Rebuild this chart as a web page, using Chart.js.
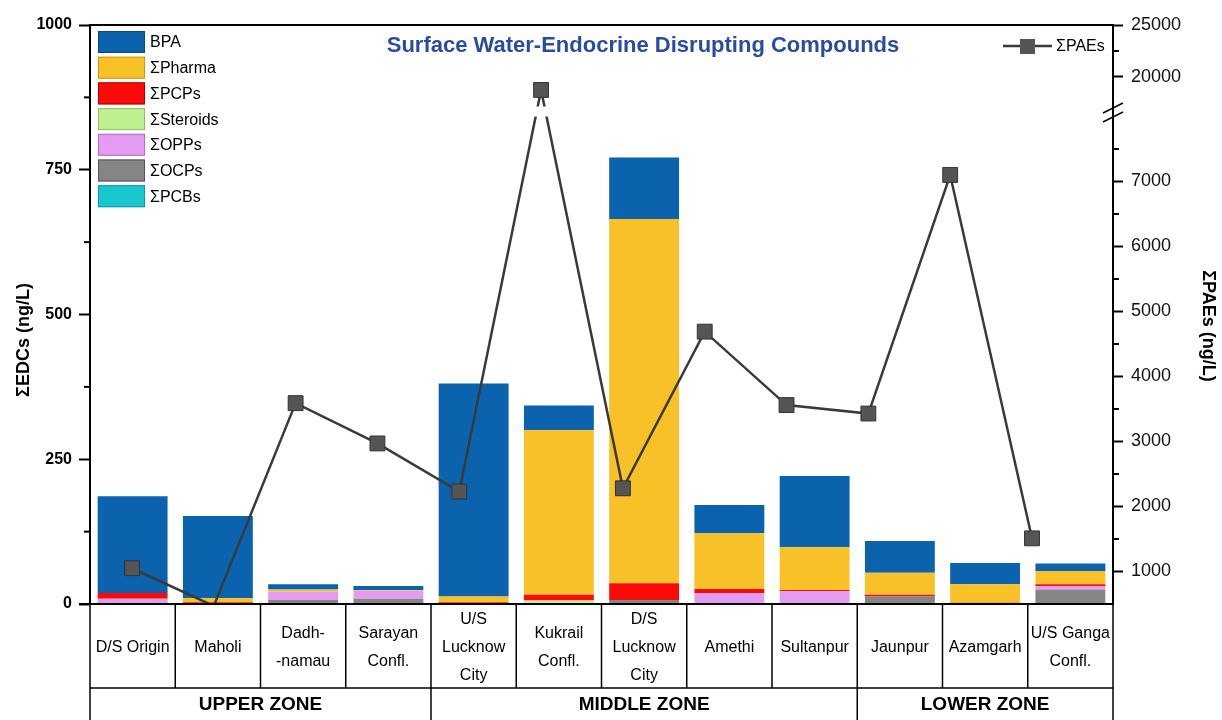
<!DOCTYPE html>
<html>
<head>
<meta charset="utf-8">
<script src="https://cdn.jsdelivr.net/npm/chart.js@4.4.1/dist/chart.umd.min.js"></script>
<style>
  body { margin: 0; background: #fff; }
  #wrap { width: 1222px; height: 720px; position: relative; }
</style>
</head>
<body>
<div id="wrap"><canvas id="chart"></canvas></div>
<script>
// sampling sites (x categories) and the zones they belong to
const sites = ['D/S Origin', 'Maholi', ['Dadh-', '-namau'], ['Sarayan', 'Confl.'],
  ['U/S', 'Lucknow', 'City'], ['Kukrail', 'Confl.'], ['D/S', 'Lucknow', 'City'],
  'Amethi', 'Sultanpur', 'Jaunpur', 'Azamgarh', ['U/S Ganga', 'Confl.']];
const zoneNames = ['UPPER ZONE', 'MIDDLE ZONE', 'LOWER ZONE'];
const zoneSizes = [4, 5, 3];

// EDC groups, ng/L (stacked bars, left axis)
const bpa      = [167, 142, 9, 7, 368, 43, 106, 49, 123, 55, 37, 13];
const pharma   = [0, 7, 4, 1, 10, 284, 629, 96, 74, 38, 32, 23];
const pcps     = [10, 3, 0, 0, 3, 10, 29, 7, 2, 3, 2, 3];
const steroids = [0, 0, 0, 0, 0, 6, 0, 0, 0, 0, 0, 0];
const opps     = [7, 0, 14, 14, 0, 0, 0, 19, 22, 0, 0, 6];
const ocps     = [2, 0, 7, 9, 0, 0, 7, 0, 0, 13, 0, 25];
const pcbs     = [0, 0, 0, 0, 0, 0, 0, 0, 0, 0, 0, 0];

// sum of phthalates, ng/L (line, right broken axis)
const paes = [1050, 470, 3590, 2970, 2230, 18750, 2280, 4690, 3560, 3430, 7100, 1510];

const leftTicks = [0, 250, 500, 750, 1000];
const rightTicks = [1000, 2000, 3000, 4000, 5000, 6000, 7000, 20000, 25000];
const rightMinor = [1500, 2500, 3500, 4500, 5500, 6500, 7500, 22500];
const paeBreak = { lowMin: 500, lowMax: 8000, highMin: 16200, highMax: 25000, frac: 0.842 };

const seriesNames = ['BPA', 'ΣPharma', 'ΣPCPs', 'ΣSteroids', 'ΣOPPs', 'ΣOCPs', 'ΣPCBs'];
const seriesValues = [bpa, pharma, pcps, steroids, opps, ocps, pcbs];
const seriesColors = ['#0b63ad', '#f8c127', '#fb0a0a', '#bff08f', '#e49cf2', '#858585', '#19c8cf'];
const seriesEdges = ['#0a4a85', '#c99a10', '#b00000', '#8fc060', '#b070c0', '#555555', '#109a9f'];

const FONT = 'Liberation Sans, Arial, sans-serif';
Chart.defaults.font.family = FONT;
Chart.defaults.color = '#000';

// linear axis with a gap between lowMax and highMin
class BrokenLinearScale extends Chart.LinearScale {
  static id = 'brokenLinear';
  static defaults = {};
  determineDataLimits() {
    this.min = paeBreak.lowMin;
    this.max = paeBreak.highMax;
  }
  buildTicks() {
    return rightTicks.map(v => ({ value: v }));
  }
  getPixelForValue(v) {
    const b = paeBreak;
    let d;
    if (v <= b.lowMax) d = (v - b.lowMin) / (b.lowMax - b.lowMin) * b.frac;
    else if (v < b.highMin) d = b.frac;
    else d = b.frac + (v - b.highMin) / (b.highMax - b.highMin) * (1 - b.frac);
    return this.bottom - d * (this.bottom - this.top);
  }
  getValueForPixel(p) {
    const b = paeBreak;
    const d = (this.bottom - p) / (this.bottom - this.top);
    if (d <= b.frac) return b.lowMin + d / b.frac * (b.lowMax - b.lowMin);
    return b.highMin + (d - b.frac) / (1 - b.frac) * (b.highMax - b.highMin);
  }
}
Chart.register(BrokenLinearScale);

const datasets = [];
for (let i = seriesNames.length - 1; i >= 0; i--) {
  datasets.push({
    type: 'bar',
    label: seriesNames[i],
    data: seriesValues[i],
    backgroundColor: seriesColors[i],
    borderWidth: 0,
    grouped: false,
    barPercentage: 0.82,
    categoryPercentage: 1,
    order: 1
  });
}
datasets.push({
  type: 'line',
  label: 'ΣPAEs',
  data: paes.map((v, i) => ({ x: i, y: v })),
  xAxisID: 'x2',
  yAxisID: 'y2',
  borderColor: '#3a3a3a',
  borderWidth: 2.5,
  pointStyle: 'rect',
  pointRadius: ctx => (ctx.raw && ctx.raw.y < paeBreak.lowMin ? 0 : 10.5),
  pointBackgroundColor: '#555',
  pointBorderColor: '#333',
  pointBorderWidth: 1,
  tension: 0,
  clip: { left: 20, right: 20, top: 20, bottom: 0 },
  order: 0
});

function line(ctx, x1, y1, x2, y2) {
  ctx.beginPath();
  ctx.moveTo(x1, y1);
  ctx.lineTo(x2, y2);
  ctx.stroke();
}

const decor = {
  id: 'decor',
  afterDatasetsDraw(chart) {
    // white gap in the line where it crosses the axis break
    const ctx = chart.ctx, xs = chart.scales.x2, ys = chart.scales.y2;
    const yCut = ys.getPixelForValue(paeBreak.lowMax);
    ctx.save();
    ctx.fillStyle = '#fff';
    paes.forEach((v, i) => {
      if (v > paeBreak.lowMax) {
        const l = xs.getPixelForValue(i - 1), r = xs.getPixelForValue(i + 1);
        ctx.fillRect(l, yCut - 10, r - l, 10);
      }
    });
    ctx.restore();
  },
  afterDraw(chart) {
    const ctx = chart.ctx, area = chart.chartArea;
    const x = chart.scales.x, y = chart.scales.y, y2 = chart.scales.y2;
    ctx.save();
    ctx.strokeStyle = '#000';

    // frame top and bottom
    ctx.lineWidth = 2;
    line(ctx, area.left, area.top, area.right, area.top);
    line(ctx, area.left - 11, area.bottom, area.right, area.bottom);

    // minor ticks
    [125, 375, 625, 875].forEach(v => {
      const p = y.getPixelForValue(v);
      line(ctx, area.left - 6, p, area.left, p);
    });
    rightMinor.forEach(v => {
      const p = y2.getPixelForValue(v);
      line(ctx, area.right, p, area.right + 6, p);
    });

    // axis break marks
    const yCut = y2.getPixelForValue(paeBreak.lowMax);
    ctx.lineWidth = 1.5;
    line(ctx, area.right - 10, yCut - 3.5, area.right + 10, yCut - 13.5);
    line(ctx, area.right - 10, yCut + 5.5, area.right + 10, yCut - 4.5);

    // title
    ctx.fillStyle = '#2b4c9e';
    ctx.font = 'bold 22px ' + FONT;
    ctx.textAlign = 'center';
    ctx.textBaseline = 'middle';
    ctx.fillText('Surface Water-Endocrine Disrupting Compounds', 643, 46);

    // axis titles
    ctx.fillStyle = '#000';
    ctx.font = 'bold 18px ' + FONT;
    ctx.save();
    ctx.translate(24, 340);
    ctx.rotate(-Math.PI / 2);
    ctx.fillText('ΣEDCs (ng/L)', 0, 0);
    ctx.restore();
    ctx.save();
    ctx.translate(1208, 326);
    ctx.rotate(Math.PI / 2);
    ctx.fillText('ΣPAEs (ng/L)', 0, 0);
    ctx.restore();

    // table under the x axis
    const n = sites.length;
    const edges = [area.left];
    for (let i = 1; i < n; i++) edges.push((x.getPixelForValue(i - 1) + x.getPixelForValue(i)) / 2);
    edges.push(area.right);
    const rowY = area.bottom + x.height;
    const botY = chart.height;
    ctx.lineWidth = 1.5;
    edges.forEach(e => line(ctx, e, area.bottom, e, rowY));
    line(ctx, area.left, rowY, area.right, rowY);
    let k = 0;
    ctx.font = 'bold 19px ' + FONT;
    line(ctx, edges[0], rowY, edges[0], botY);
    zoneNames.forEach((z, j) => {
      const l = edges[k], r = edges[k + zoneSizes[j]];
      line(ctx, r, rowY, r, botY);
      ctx.fillText(z, (l + r) / 2, (rowY + botY) / 2 + 1);
      k += zoneSizes[j];
    });

    // legend for the bars
    ctx.font = '16px ' + FONT;
    ctx.textAlign = 'left';
    ctx.lineWidth = 1;
    seriesNames.forEach((s, i) => {
      const cy = 42 + i * 25.7;
      ctx.fillStyle = seriesColors[i];
      ctx.fillRect(98, cy - 11, 47, 22);
      ctx.strokeStyle = seriesEdges[i];
      ctx.strokeRect(98.5, cy - 10.5, 46, 21);
      ctx.fillStyle = '#000';
      ctx.fillText(s, 150, cy + 1);
    });

    // legend for the line
    ctx.strokeStyle = '#3a3a3a';
    ctx.lineWidth = 2.5;
    line(ctx, 1003, 46, 1052, 46);
    ctx.fillStyle = '#555';
    ctx.fillRect(1020, 39, 15, 15);
    ctx.fillStyle = '#000';
    ctx.fillText('ΣPAEs', 1056, 47);
    ctx.restore();
  }
};

new Chart(document.getElementById('chart'), {
  type: 'bar',
  data: { labels: sites, datasets: datasets },
  plugins: [decor],
  options: {
    responsive: true,
    maintainAspectRatio: false,
    animation: false,
    layout: { padding: { top: 25, bottom: 32, left: 0, right: 0 } },
    plugins: { legend: { display: false }, tooltip: { enabled: false } },
    scales: {
      x: {
        stacked: true,
        offset: true,
        grid: { display: false, drawTicks: false },
        border: { display: true, color: '#000', width: 2 },
        ticks: {
          autoSkip: false,
          maxRotation: 0,
          padding: 16,
          crossAlign: 'center',
          color: '#000',
          font: { size: 16, lineHeight: 1.75 }
        },
        afterFit: s => { s.height = 84; }
      },
      x2: {
        type: 'linear',
        display: false,
        offset: false,
        grid: { offset: false },
        min: -0.513,
        max: 11.99
      },
      y: {
        stacked: true,
        min: 0,
        max: 1000,
        afterBuildTicks: s => { s.ticks = leftTicks.map(v => ({ value: v })); },
        grid: { drawOnChartArea: false, tickLength: 11, tickWidth: 2, color: '#000' },
        border: { color: '#000', width: 2 },
        ticks: { padding: 7, color: '#000', font: { size: 16, weight: 'bold' }, callback: v => String(v) },
        afterFit: s => { s.width = 90; }
      },
      y2: {
        type: 'brokenLinear',
        position: 'right',
        grid: { drawOnChartArea: false, tickLength: 10, tickWidth: 2, color: '#000' },
        border: { color: '#000', width: 2 },
        ticks: { autoSkip: false, padding: 8, color: '#111', font: { size: 18 }, callback: v => String(v) },
        afterFit: s => { s.width = 109; }
      }
    }
  }
});
</script>
</body>
</html>
